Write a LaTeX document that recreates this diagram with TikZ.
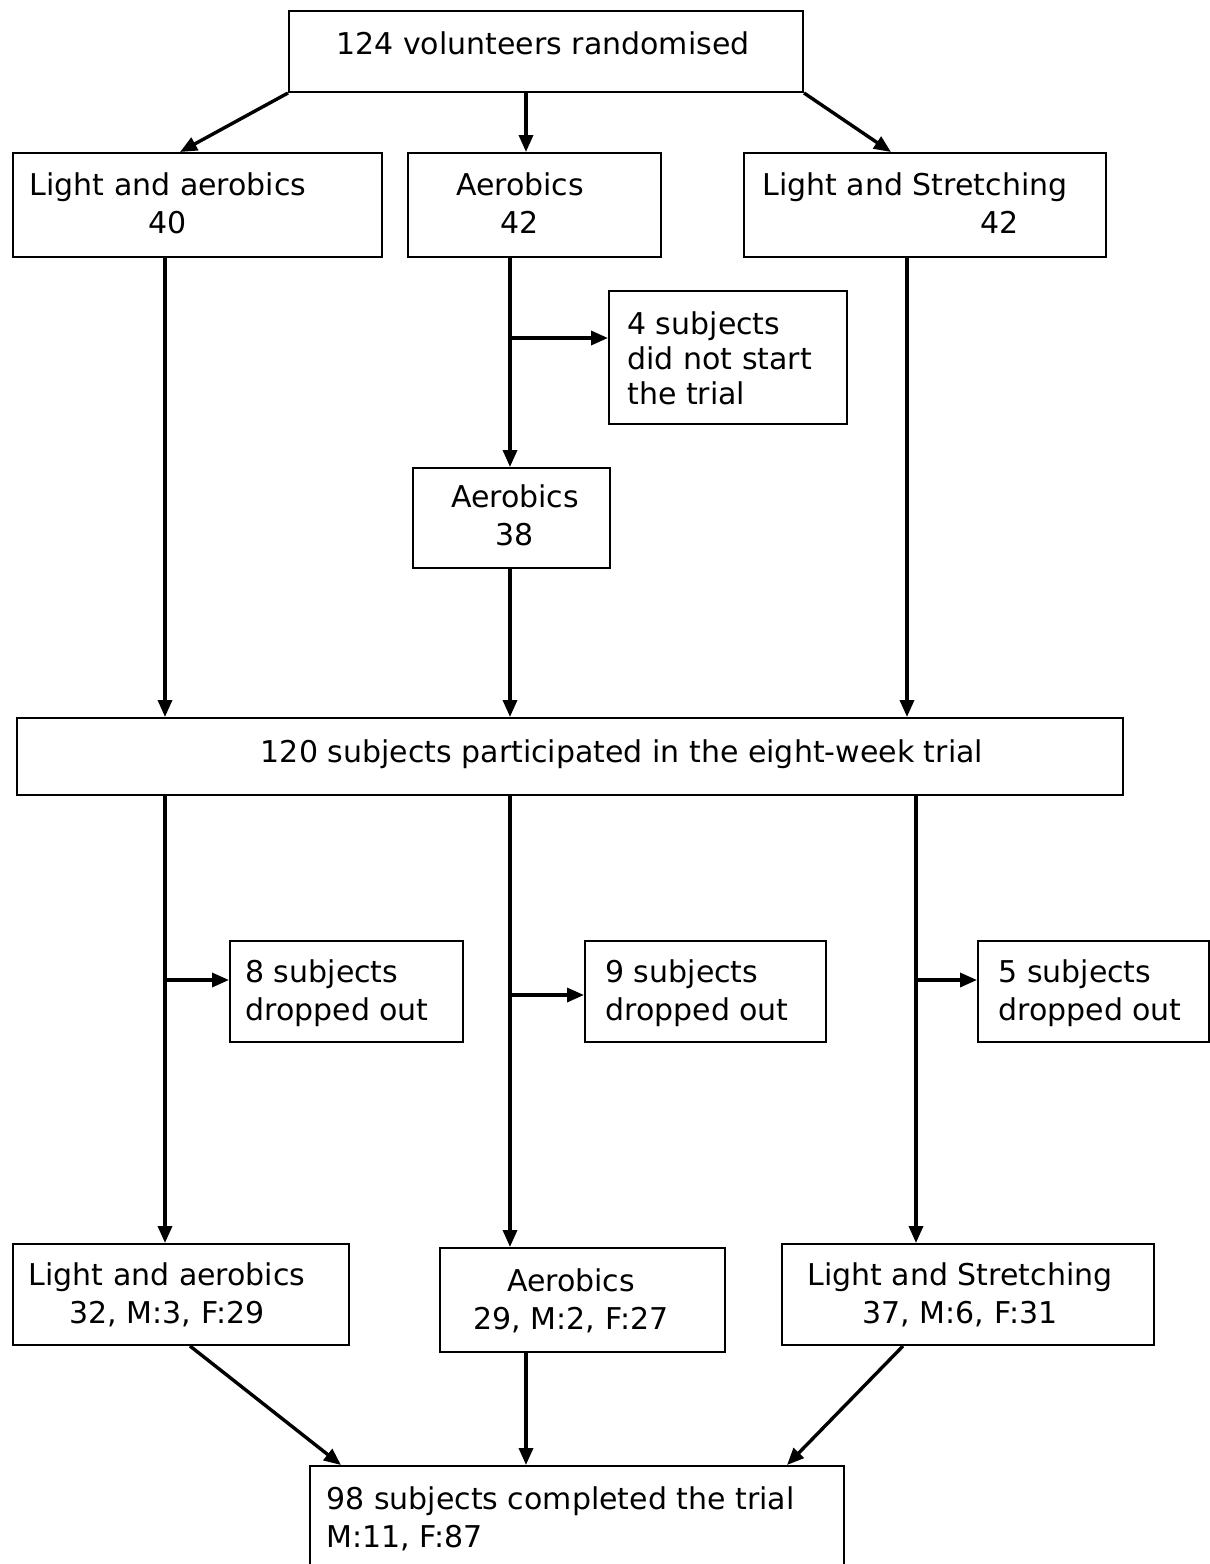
\documentclass[tikz,border=0pt]{standalone}
\usepackage{fontspec}
\setmainfont{DejaVu Sans}
\usetikzlibrary{arrows.meta,calc}
\begin{document}
\begin{tikzpicture}[x=0.5pt,y=-0.5pt,
  box/.style={draw, line width=1pt, inner sep=0pt, anchor=north west},
  txt/.style={inner sep=0pt, font=\fontsize{15}{19}\selectfont},
  arr/.style={line width=1.7pt, -{Triangle[length=8.5pt,width=7pt]}},
]
\useasboundingbox (0,0) rectangle (1210,1564);
\clip (0,0) rectangle (1210,1564);
% boxes
\node[box, minimum width=514*0.5pt, minimum height=81*0.5pt] (top) at (288,10) {};
\node[box, minimum width=369*0.5pt, minimum height=104*0.5pt] (la) at (12,152) {};
\node[box, minimum width=253*0.5pt, minimum height=104*0.5pt] (aer) at (407,152) {};
\node[box, minimum width=362*0.5pt, minimum height=104*0.5pt] (ls) at (743,152) {};
\node[box, minimum width=238*0.5pt, minimum height=133*0.5pt] (nst) at (608,290) {};
\node[box, minimum width=197*0.5pt, minimum height=100*0.5pt] (a38) at (412,467) {};
\node[box, minimum width=1106*0.5pt, minimum height=77*0.5pt] (part) at (16,717) {};
\node[box, minimum width=233*0.5pt, minimum height=101*0.5pt] (d8) at (229,940) {};
\node[box, minimum width=241*0.5pt, minimum height=101*0.5pt] (d9) at (584,940) {};
\node[box, minimum width=231*0.5pt, minimum height=101*0.5pt] (d5) at (977,940) {};
\node[box, minimum width=336*0.5pt, minimum height=101*0.5pt] (la2) at (12,1243) {};
\node[box, minimum width=285*0.5pt, minimum height=104*0.5pt] (aer2) at (439,1247) {};
\node[box, minimum width=372*0.5pt, minimum height=101*0.5pt] (ls2) at (781,1243) {};
\node[box, minimum width=534*0.5pt, minimum height=135*0.5pt] (fin) at (309,1465) {};
% texts
\node[txt, anchor=north] (topT) at (543,31) {124 volunteers randomised};
\node[txt, anchor=north, align=center] (laT) at (168,172) {Light and aerobics\\40};
\node[txt, anchor=north, align=center] (aerT) at (520,172) {Aerobics\\42};
\node[txt, anchor=north west, align=left] (lsT) at (762,172) {Light and Stretching\\\hspace*{109pt}42};
\node[txt, anchor=north west, align=left, font=\fontsize{15}{17.5}\selectfont] (nstT) at (627,311) {4 subjects\\did not start\\the trial};
\node[txt, anchor=north, align=center] (a38T) at (515,484) {Aerobics\\38};
\node[txt, anchor=north] (partT) at (622,739) {120 subjects participated in the eight-week trial};
\node[txt, anchor=north west, align=left] (d8T) at (245,959) {8 subjects\\dropped out};
\node[txt, anchor=north west, align=left] (d9T) at (605,959) {9 subjects\\dropped out};
\node[txt, anchor=north west, align=left] (d5T) at (998,959) {5 subjects\\dropped out};
\node[txt, anchor=north, align=center] (la2T) at (167,1262) {Light and aerobics\\32, M:3, F:29};
\node[txt, anchor=north, align=center] (aer2T) at (571,1268) {Aerobics\\29, M:2, F:27};
\node[txt, anchor=north, align=center] (ls2T) at (960,1262) {Light and Stretching\\37, M:6, F:31};
\node[txt, anchor=north west, align=left] (finT) at (326,1486) {98 subjects completed the trial\\M:11, F:87};
% connectors
\draw[arr] (top.south west) -- ($(la.north west)+(168,0)$);
\draw[arr] ($(top.south west)+(238,0)$) -- ($(aer.north west)+(119,0)$);
\draw[arr] (top.south east) -- ($(ls.north west)+(148,0)$);
\draw[arr] ($(la.south west)+(153,0)$) -- ($(part.north west)+(149,0)$);
\draw[arr] ($(aer.south west)+(103,0)$) -- ($(a38.north west)+(98,0)$);
\coordinate (b1) at (510,338);
\draw[arr] (b1) -- (b1 -| nst.west);
\draw[arr] ($(a38.south west)+(98,0)$) -- ($(part.north west)+(494,0)$);
\draw[arr] ($(ls.south west)+(164,0)$) -- ($(part.north west)+(891,0)$);
\draw[arr] ($(part.south west)+(149,0)$) -- ($(la2.north west)+(153,0)$);
\draw[arr] ($(part.south west)+(494,0)$) -- ($(aer2.north west)+(71,0)$);
\draw[arr] ($(part.south west)+(900,0)$) -- ($(ls2.north west)+(135,0)$);
\coordinate (b2) at (165,980);
\draw[arr] (b2) -- (b2 -| d8.west);
\coordinate (b3) at (510,995);
\draw[arr] (b3) -- (b3 -| d9.west);
\coordinate (b4) at (916,980);
\draw[arr] (b4) -- (b4 -| d5.west);
\draw[arr] ($(la2.south west)+(178,0)$) -- ($(fin.north west)+(32,0)$);
\draw[arr] ($(aer2.south west)+(87,0)$) -- ($(fin.north west)+(217,0)$);
\draw[arr] ($(ls2.south west)+(122,0)$) -- ($(fin.north west)+(478,0)$);
\end{tikzpicture}
\end{document}
